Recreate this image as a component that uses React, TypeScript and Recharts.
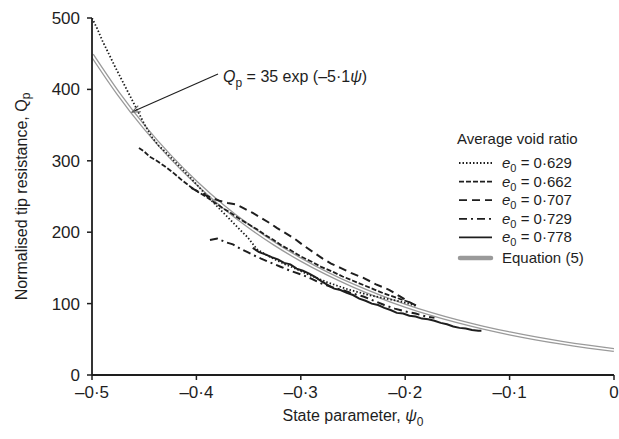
import React from 'react';
import {
  LineChart,
  Line,
  XAxis,
  YAxis,
  ReferenceLine,
} from 'recharts';

// State parameter ticks and normalised tip resistance ticks
const psiTicks = [-0.5, -0.4, -0.3, -0.2, -0.1, 0];
const qTicks = [0, 100, 200, 300, 400, 500];

// Measured traces, one per average void ratio (x = ψ0, y = Qp)
const e629 = [
  { x: -0.5, y: 500 }, { x: -0.495, y: 485 }, { x: -0.49, y: 468 }, { x: -0.484, y: 450 },
  { x: -0.478, y: 432 }, { x: -0.471, y: 412 }, { x: -0.464, y: 392 }, { x: -0.457, y: 372 },
  { x: -0.45, y: 352 }, { x: -0.443, y: 334 }, { x: -0.436, y: 321 }, { x: -0.43, y: 313 },
  { x: -0.422, y: 301 }, { x: -0.414, y: 289 }, { x: -0.406, y: 277 }, { x: -0.398, y: 264 },
  { x: -0.39, y: 251 }, { x: -0.382, y: 239 }, { x: -0.374, y: 227 }, { x: -0.366, y: 215 },
  { x: -0.358, y: 203 }, { x: -0.351, y: 193 }, { x: -0.342, y: 176 }, { x: -0.334, y: 169 },
  { x: -0.325, y: 162 }, { x: -0.315, y: 155 }, { x: -0.305, y: 149 }, { x: -0.295, y: 142 },
  { x: -0.285, y: 136 }, { x: -0.275, y: 130 }, { x: -0.265, y: 125 }, { x: -0.255, y: 120 },
  { x: -0.245, y: 116 }, { x: -0.235, y: 112 }, { x: -0.225, y: 109 }, { x: -0.215, y: 106 },
  { x: -0.205, y: 103 }, { x: -0.197, y: 100 }, { x: -0.19, y: 97 },
];

const e662 = [
  { x: -0.455, y: 318 }, { x: -0.45, y: 313 }, { x: -0.445, y: 306 }, { x: -0.438, y: 300 },
  { x: -0.43, y: 292 }, { x: -0.422, y: 283 }, { x: -0.414, y: 273 }, { x: -0.406, y: 264 },
  { x: -0.398, y: 256 }, { x: -0.39, y: 249 }, { x: -0.382, y: 241 }, { x: -0.374, y: 233 },
  { x: -0.366, y: 226 }, { x: -0.358, y: 218 }, { x: -0.35, y: 211 }, { x: -0.342, y: 204 },
  { x: -0.334, y: 196 }, { x: -0.326, y: 189 }, { x: -0.318, y: 181 }, { x: -0.31, y: 175 },
  { x: -0.3, y: 166 }, { x: -0.29, y: 159 }, { x: -0.28, y: 151 }, { x: -0.27, y: 145 },
  { x: -0.26, y: 138 }, { x: -0.25, y: 132 }, { x: -0.24, y: 126 }, { x: -0.23, y: 120 },
  { x: -0.22, y: 114 }, { x: -0.21, y: 109 }, { x: -0.2, y: 104 }, { x: -0.194, y: 101 },
];

const e707 = [
  { x: -0.405, y: 262 }, { x: -0.396, y: 255 }, { x: -0.387, y: 249 }, { x: -0.378, y: 244 },
  { x: -0.37, y: 241 }, { x: -0.362, y: 239 }, { x: -0.354, y: 233 }, { x: -0.346, y: 227 },
  { x: -0.338, y: 220 }, { x: -0.33, y: 213 }, { x: -0.323, y: 206 }, { x: -0.315, y: 199 },
  { x: -0.307, y: 192 }, { x: -0.298, y: 182 }, { x: -0.288, y: 172 }, { x: -0.279, y: 163 },
  { x: -0.271, y: 156 }, { x: -0.262, y: 150 }, { x: -0.252, y: 143 }, { x: -0.24, y: 136 },
  { x: -0.228, y: 127 }, { x: -0.215, y: 119 }, { x: -0.205, y: 110 }, { x: -0.196, y: 102 },
  { x: -0.189, y: 97 },
];

const e729 = [
  { x: -0.387, y: 189 }, { x: -0.38, y: 191 }, { x: -0.372, y: 186 }, { x: -0.365, y: 183 },
  { x: -0.358, y: 177 }, { x: -0.351, y: 172 }, { x: -0.344, y: 167 }, { x: -0.338, y: 163 },
  { x: -0.33, y: 158 }, { x: -0.32, y: 152 }, { x: -0.31, y: 146 }, { x: -0.3, y: 141 },
  { x: -0.29, y: 135 }, { x: -0.28, y: 128 }, { x: -0.27, y: 123 }, { x: -0.26, y: 119 },
  { x: -0.25, y: 114 }, { x: -0.24, y: 110 }, { x: -0.23, y: 104 }, { x: -0.22, y: 98 },
  { x: -0.21, y: 93 }, { x: -0.2, y: 89 }, { x: -0.19, y: 86 }, { x: -0.18, y: 82 },
  { x: -0.172, y: 80 },
];

const e778 = [
  { x: -0.346, y: 178 }, { x: -0.34, y: 172 }, { x: -0.334, y: 169 }, { x: -0.328, y: 165 },
  { x: -0.322, y: 162 }, { x: -0.316, y: 157 }, { x: -0.31, y: 155 }, { x: -0.304, y: 149 },
  { x: -0.298, y: 146 }, { x: -0.292, y: 142 }, { x: -0.286, y: 137 }, { x: -0.28, y: 131 },
  { x: -0.274, y: 126 }, { x: -0.268, y: 121 }, { x: -0.262, y: 119 }, { x: -0.256, y: 115 },
  { x: -0.25, y: 112 }, { x: -0.244, y: 107 }, { x: -0.238, y: 104 }, { x: -0.232, y: 100 },
  { x: -0.226, y: 98 }, { x: -0.22, y: 94 }, { x: -0.214, y: 91 }, { x: -0.208, y: 87 },
  { x: -0.202, y: 86 }, { x: -0.196, y: 83 }, { x: -0.19, y: 82 }, { x: -0.184, y: 79 },
  { x: -0.178, y: 78 }, { x: -0.172, y: 76 }, { x: -0.166, y: 73 }, { x: -0.16, y: 71 },
  { x: -0.154, y: 68 }, { x: -0.148, y: 66 }, { x: -0.142, y: 65 }, { x: -0.136, y: 63 },
  { x: -0.13, y: 62 }, { x: -0.127, y: 62 },
];

// Equation (5): Qp = 35 exp(-5.1 ψ), tabulated
const equation5 = [
  { x: -0.5, y: 448.2 }, { x: -0.475, y: 394.6 }, { x: -0.45, y: 347.3 }, { x: -0.425, y: 305.8 },
  { x: -0.4, y: 269.2 }, { x: -0.375, y: 237.0 }, { x: -0.35, y: 208.6 }, { x: -0.325, y: 183.6 },
  { x: -0.3, y: 161.6 }, { x: -0.275, y: 142.3 }, { x: -0.25, y: 125.3 }, { x: -0.225, y: 110.3 },
  { x: -0.2, y: 97.1 }, { x: -0.175, y: 85.4 }, { x: -0.15, y: 75.2 }, { x: -0.125, y: 66.2 },
  { x: -0.1, y: 58.3 }, { x: -0.075, y: 51.3 }, { x: -0.05, y: 45.2 }, { x: -0.025, y: 39.8 },
  { x: 0, y: 35.0 },
];

// Annotation arrow: from the label towards the curve
const arrowFrom = { x: -0.3793, y: 421.6 };
const arrowTo = { x: -0.4617, y: 368.3 };

const legendItems = [
  { label: '0·629', dash: '1.5 2' },
  { label: '0·662', dash: '5 2' },
  { label: '0·707', dash: '8 5' },
  { label: '0·729', dash: '8 4 2 4' },
  { label: '0·778', dash: '' },
];

const FONT = '"Liberation Sans", Arial, Helvetica, sans-serif';
const INK = '#1e1e1e';
const GREY = '#9a9a9a';

const fmtPsi = (v: number) =>
  Math.abs(v) < 1e-9 ? '0' : '\u2013' + Math.abs(v).toFixed(1).replace('.', '\u00b7');

const ArrowShape = (props: any) => {
  const { x1, y1, x2, y2 } = props;
  // x1,y1 = label end; x2,y2 = tip
  const ang = Math.atan2(y2 - y1, x2 - x1);
  const len = 9;
  const spread = 0.38;
  const a1 = ang + Math.PI - spread;
  const a2 = ang + Math.PI + spread;
  return (
    <g>
      <line x1={x1} y1={y1} x2={x2} y2={y2} stroke={INK} strokeWidth={1.1} />
      <polyline
        points={`${x2 + len * Math.cos(a1)},${y2 + len * Math.sin(a1)} ${x2},${y2} ${x2 + len * Math.cos(a2)},${y2 + len * Math.sin(a2)}`}
        fill="none"
        stroke="#666"
        strokeWidth={1.1}
      />
      <text x={x1 + 5} y={y1 + 8} fontFamily={FONT} fontSize={16} fill={INK}>
        <tspan fontStyle="italic">Q</tspan>
        <tspan fontSize={12} dy={5}>p</tspan>
        <tspan dy={-5}>{' = 35 exp (\u20135\u00b71'}</tspan>
        <tspan fontStyle="italic">{'\u03c8'}</tspan>
        <tspan>)</tspan>
      </text>
    </g>
  );
};

// Legend block, placed over the upper right of the plot
const LegendBox = () => (
  <svg width={170} height={140} style={{ position: 'absolute', left: 455, top: 124, overflow: 'visible' }}>
    <text x={2} y={20} fontFamily={FONT} fontSize={15} fill={INK}>
      Average void ratio
    </text>
    {legendItems.map((it, i) => {
      const cy = 39 + i * 18.6;
      return (
        <g key={it.label}>
          <line x1={4} x2={37} y1={cy} y2={cy} stroke={INK} strokeWidth={1.8}
            strokeDasharray={it.dash || undefined} />
          <text x={47} y={cy + 5} fontFamily={FONT} fontSize={15} fill={INK}>
            <tspan fontStyle="italic">e</tspan>
            <tspan fontSize={11} dy={4}>0</tspan>
            <tspan dy={-4}>{' = ' + it.label}</tspan>
          </text>
        </g>
      );
    })}
    <line x1={5} x2={36} y1={39 + 5 * 18.6 + 2} y2={39 + 5 * 18.6 + 2} stroke={GREY}
      strokeWidth={4.5} strokeLinecap="round" />
    <text x={47} y={39 + 5 * 18.6 + 7} fontFamily={FONT} fontSize={15} fill={INK}>
      Equation (5)
    </text>
  </svg>
);

const YTitle = (props: any) => {
  const vb = props.viewBox || {};
  const cx = 21;
  const cy = (vb.y ?? 18) + (vb.height ?? 357) / 2;
  return (
    <text x={cx} y={cy} transform={`rotate(-90 ${cx} ${cy})`} textAnchor="middle"
      dominantBaseline="central" fontFamily={FONT} fontSize={16} fill={INK}>
      Normalised tip resistance, Q
      <tspan fontSize={12} dy={5}>p</tspan>
    </text>
  );
};

const XTitle = (props: any) => {
  const vb = props.viewBox || {};
  const cx = (vb.x ?? 92) + (vb.width ?? 522) / 2;
  const cy = 421;
  return (
    <text x={cx} y={cy} textAnchor="middle" fontFamily={FONT} fontSize={16} fill={INK}>
      State parameter, <tspan fontStyle="italic">{'\u03c8'}</tspan>
      <tspan fontSize={12} dy={5}>0</tspan>
    </text>
  );
};

export default function App() {
  return (
    <div style={{ position: 'absolute', left: 0, top: 0, width: 619, height: 439, background: '#fff' }}>
      <LineChart width={619} height={439} margin={{ top: 18, right: 5, left: 0, bottom: 0 }}>
        <XAxis
          type="number"
          dataKey="x"
          domain={[-0.5, 0]}
          ticks={psiTicks}
          tickFormatter={fmtPsi}
          allowDataOverflow
          height={64}
          tickSize={5}
          tickMargin={6}
          axisLine={{ stroke: INK, strokeWidth: 1.8 }}
          tickLine={{ stroke: INK, strokeWidth: 1.5 }}
          tick={{ fill: INK, fontSize: 17, fontFamily: FONT }}
          label={<XTitle />}
        />
        <YAxis
          type="number"
          dataKey="y"
          domain={[0, 500]}
          ticks={qTicks}
          allowDataOverflow
          width={92}
          tickSize={5}
          tickMargin={7}
          axisLine={{ stroke: INK, strokeWidth: 1.8 }}
          tickLine={{ stroke: INK, strokeWidth: 1.5 }}
          tick={{ fill: INK, fontSize: 17, fontFamily: FONT }}
          label={<YTitle />}
        />
        {/* Equation (5), drawn as a hollow double line */}
        <Line data={equation5} dataKey="y" type="monotone" stroke={GREY} strokeWidth={4.2}
          dot={false} isAnimationActive={false} legendType="none" />
        <Line data={equation5} dataKey="y" type="monotone" stroke="#ffffff" strokeWidth={1.6}
          dot={false} isAnimationActive={false} legendType="none" />
        <Line data={e629} dataKey="y" type="linear" stroke={INK} strokeWidth={1.8}
          strokeDasharray="1.5 2" dot={false} isAnimationActive={false} />
        <Line data={e662} dataKey="y" type="linear" stroke={INK} strokeWidth={1.8}
          strokeDasharray="5 2" dot={false} isAnimationActive={false} />
        <Line data={e707} dataKey="y" type="linear" stroke={INK} strokeWidth={2}
          strokeDasharray="8 5" dot={false} isAnimationActive={false} />
        <Line data={e729} dataKey="y" type="linear" stroke={INK} strokeWidth={2}
          strokeDasharray="8 4 2 4" dot={false} isAnimationActive={false} />
        <Line data={e778} dataKey="y" type="linear" stroke={INK} strokeWidth={2}
          dot={false} isAnimationActive={false} />
        <ReferenceLine
          segment={[arrowFrom, arrowTo]}
          ifOverflow="visible"
          shape={<ArrowShape />}
        />
      </LineChart>
      <LegendBox />
    </div>
  );
}
